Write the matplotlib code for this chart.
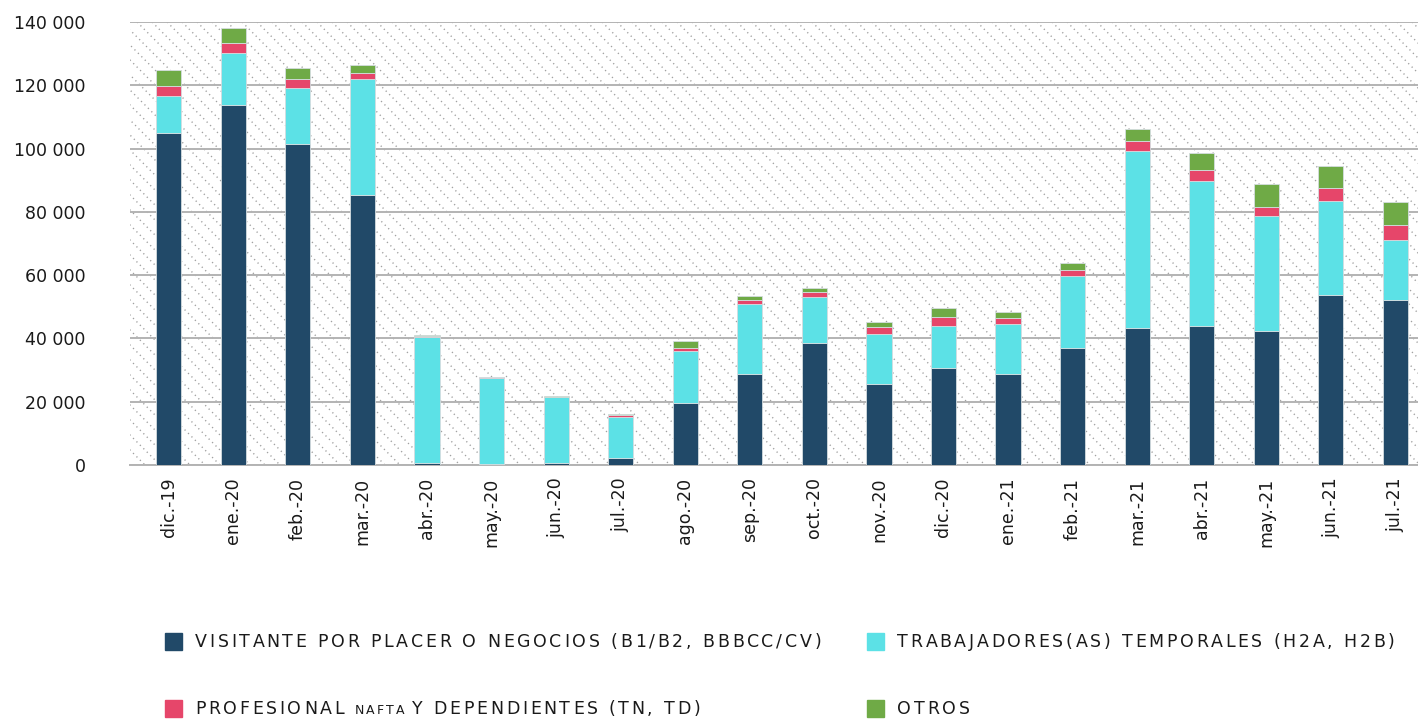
import matplotlib.pyplot as plt
from matplotlib.patches import Rectangle
from matplotlib.font_manager import FontProperties
import numpy as np

# --- datos (visas expedidas por mes) ---
meses = ['dic.-19', 'ene.-20', 'feb.-20', 'mar.-20', 'abr.-20', 'may.-20', 'jun.-20',
         'jul.-20', 'ago.-20', 'sep.-20', 'oct.-20', 'nov.-20', 'dic.-20', 'ene.-21',
         'feb.-21', 'mar.-21', 'abr.-21', 'may.-21', 'jun.-21', 'jul.-21']
visitante = [105000, 113800, 101400, 85300, 500, 400, 500, 2100, 19500, 28900,
             38700, 25700, 30700, 28700, 37100, 43300, 43900, 42400, 53800, 52100]
temporales = [11700, 16300, 17800, 36700, 40000, 27200, 21000, 13200, 16500, 22100,
              14400, 15600, 13100, 15800, 22700, 56000, 45900, 36400, 29600, 19100]
nafta = [3200, 3400, 2800, 1900, 200, 100, 100, 500, 1100, 1300,
         1500, 2300, 3100, 1900, 1900, 3100, 3300, 2800, 4000, 4600]
otros = [5000, 4500, 3600, 2500, 400, 200, 200, 300, 2200, 1200,
         1300, 1700, 2800, 1900, 2000, 3800, 5600, 7200, 7100, 7400]

series = [
    ('VISITANTE POR PLACER O NEGOCIOS (B1/B2, BBBCC/CV)', visitante, '#214968'),
    ('TRABAJADORES(AS) TEMPORALES (H2A, H2B)', temporales, '#5CE1E6'),
    ('PROFESIONAL NAFTA Y DEPENDIENTES (TN, TD)', nafta, '#E6466A'),
    ('OTROS', otros, '#6FAA46'),
]

TXT = '#1a1a1a'
W, H = 1418, 719
fig = plt.figure(figsize=(W / 100, H / 100), dpi=100)
ax_l, ax_r, ax_t, ax_b = 130, 1418, 22, 465
ax = fig.add_axes([ax_l / W, 1 - ax_b / H, (ax_r - ax_l) / W, (ax_b - ax_t) / H])

# fondo con lineas diagonales punteadas
ratio = (ax_b - ax_t) / (ax_r - ax_l)
paso = 15 / (ax_r - ax_l)
for u0 in np.arange(-ratio, 1 + paso, paso):
    ax.plot([u0, u0 + ratio], [1, 0], transform=ax.transAxes, color='#a0a0a0',
            lw=1.0, dashes=(0.9, 2.6), zorder=0, solid_capstyle='butt')

x = np.arange(len(meses))
base = np.zeros(len(meses))
for nombre, vals, color in series:
    vals = np.array(vals, dtype=float)
    ax.bar(x, vals, bottom=base, width=0.39, color=color, edgecolor='#d5dde0',
           linewidth=0.6, zorder=3)
    base += vals

ax.set_xlim(-0.6, 19.35)
ax.set_ylim(0, 140000)
ax.set_yticks(np.arange(0, 140001, 20000))
ax.set_yticklabels([f'{int(v):,}'.replace(',', ' ') for v in np.arange(0, 140001, 20000)])
ax.yaxis.grid(True, color='#b3b3b3', lw=1.4, zorder=1)
ax.set_axisbelow(True)
ax.set_xticks(x)
ax.set_xticklabels(meses, rotation=90, va='top', ha='center')
ax.tick_params(axis='y', length=0, pad=32, labelsize=12.5, labelcolor=TXT)
ax.tick_params(axis='x', length=0, pad=9, labelsize=12.5, labelcolor=TXT)
for s in ['left', 'right', 'top']:
    ax.spines[s].set_visible(False)
ax.spines['bottom'].set_color('#b3b3b3')
ax.spines['bottom'].set_linewidth(1.4)

# leyenda manual, con espaciado entre letras
fig.canvas.draw()
rend = fig.canvas.get_renderer()


def ancho(s, fp):
    # avance del texto: se mide con una barra al final y se resta la barra
    w1 = rend.get_text_width_height_descent(s + '|', fp, ismath=False)[0]
    w0 = rend.get_text_width_height_descent('|', fp, ismath=False)[0]
    return w1 - w0


def texto_espaciado(xp, yp, s, tam, track):
    fp = FontProperties(size=tam)
    for i, ch in enumerate(s):
        if ch != ' ':
            fig.text((xp + ancho(s[:i], fp) + i * track) / W, 1 - yp / H, ch,
                     fontsize=tam, color=TXT, va='baseline', ha='left')
    return xp + ancho(s, fp) + len(s) * track


pos = [(165, 641), (867, 641), (165, 708), (867, 708)]
fs = 12.5
for (nombre, vals, color), (px, py) in zip(series, pos):
    fig.patches.append(Rectangle((px / W, 1 - (py + 9) / H), 17 / W, 17 / H,
                                 transform=fig.transFigure, color=color, figure=fig))
    tx = px + 30
    ty = py + 6
    if 'NAFTA' in nombre:
        tx = texto_espaciado(tx, ty, 'PROFESIONAL ', fs, 2.7)
        tx = texto_espaciado(tx, ty, 'NAFTA ', fs * 0.72, 2.2)
        texto_espaciado(tx, ty, 'Y DEPENDIENTES (TN, TD)', fs, 2.7)
    else:
        texto_espaciado(tx, ty, nombre, fs, 2.75)

fig.savefig('out.png', dpi=100)
